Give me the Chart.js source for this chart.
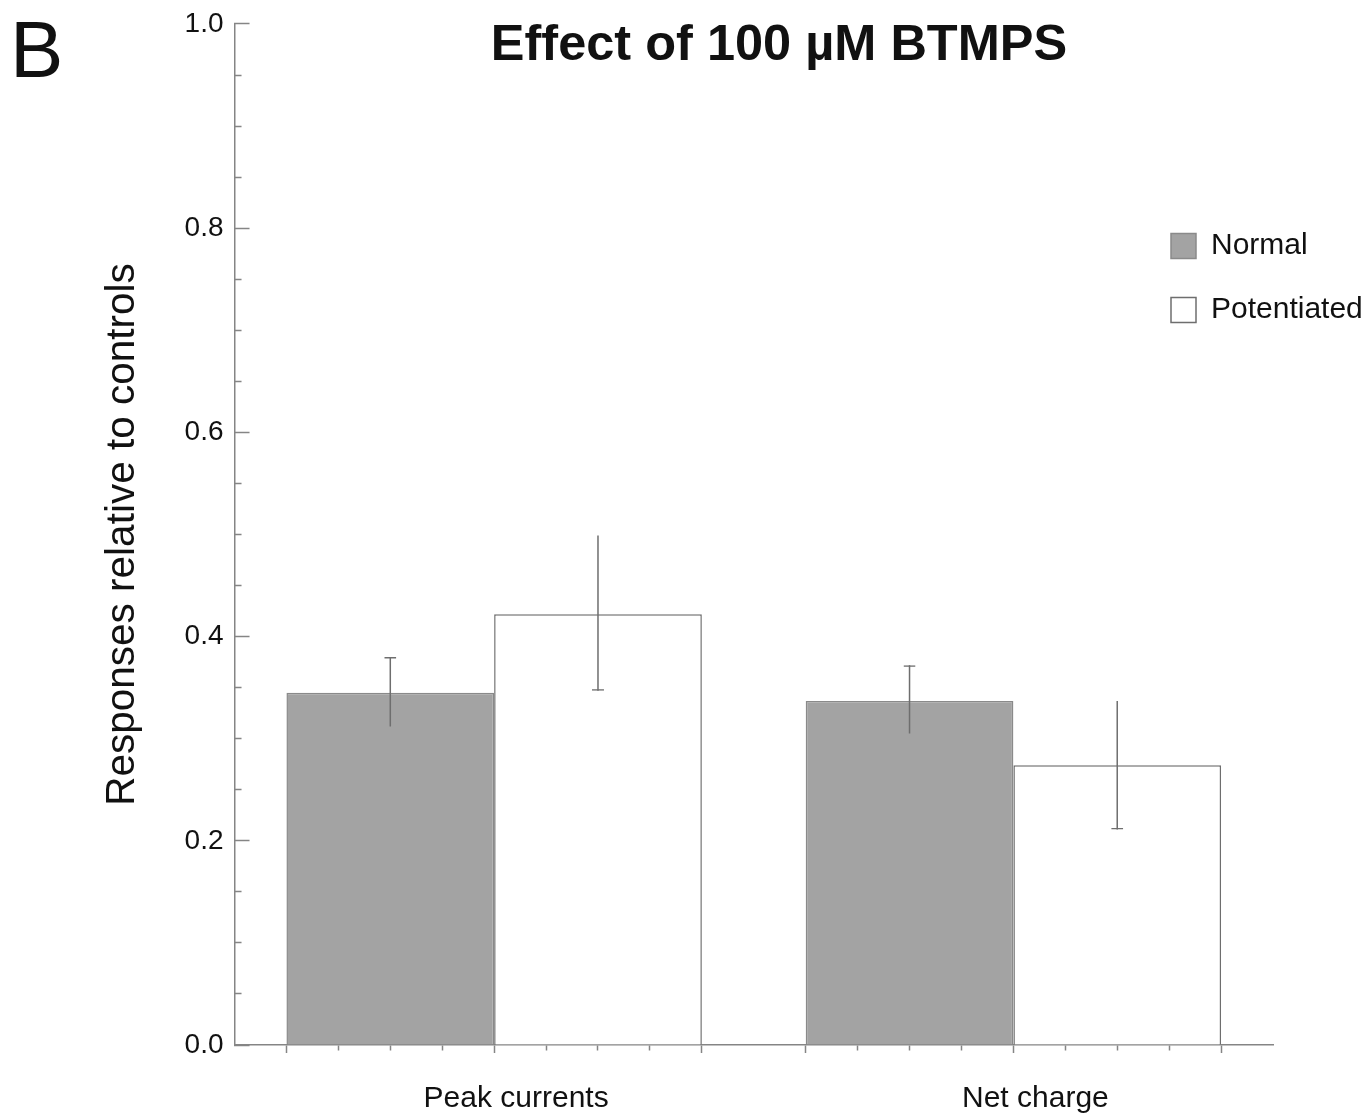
<!DOCTYPE html>
<html>
<head>
<meta charset="utf-8">
<script src="https://cdn.jsdelivr.net/npm/chart.js@4.4.1/dist/chart.umd.min.js"></script>
<style>
  html, body { margin: 0; padding: 0; background: #ffffff; }
  #wrap { position: relative; width: 1368px; height: 1118px; overflow: hidden; background: #ffffff; }
  #chart { position: absolute; left: 0; top: 0; }
  #panel { position: absolute; left: 10px; top: 10px; font: 80px/1 'Liberation Sans', Arial, sans-serif; color: #111; }
</style>
</head>
<body>
<div id="wrap">
  <canvas id="chart" width="1368" height="1118"></canvas>
  <div id="panel"></div>
</div>
<script>
// ---- data ----
const panelLabel = 'B';
const chartTitle = 'Effect of 100 µM BTMPS';
const yAxisTitle = 'Responses relative to controls';
const categories = ['Peak currents', 'Net charge'];
const seriesNames = ['Normal', 'Potentiated'];
const normalMean = [0.345, 0.337];
const normalLow = [0.312, 0.305];
const normalHigh = [0.380, 0.372];
const potentiatedMean = [0.422, 0.274];
const potentiatedLow = [0.347, 0.211];
const potentiatedHigh = [0.499, 0.337];
const yMin = 0, yMax = 1, yMajorStep = 0.2, yMinorStep = 0.05;

// ---- style / layout ----
const FONT = "'Liberation Sans', Arial, sans-serif";
const AXIS_COLOR = '#858585';
const ERR_COLOR = '#6e6e6e';
const LEGEND_X = 1137, LEGEND_Y = 197;
const TITLE_CX = 779;
const Y_LABEL_OVERFLOW = 17;

document.getElementById('panel').textContent = panelLabel;

Chart.defaults.font.family = FONT;
Chart.defaults.color = '#111';

const tickVal = ctx => (ctx && ctx.tick) ? ctx.tick.value : null;
const isMajorY = v => v !== null && Math.abs(v / yMajorStep - Math.round(v / yMajorStep)) < 1e-6;
const toRange = (lo, hi) => lo.map((l, i) => [l, hi[i]]);

// hidden tick-mark axis: 10 subdivisions per category
const SUBDIV = 10;
const isMajorX = v => { if (v === null) return true; const r = ((Math.round(v) % SUBDIV) + SUBDIV) % SUBDIV; return r === 1 || r === 5 || r === 9; };
const isHiddenX = v => v === null || Math.round(v) % SUBDIV === 0;

const placePlugin = {
  id: 'place',
  afterLayout(chart) {
    const lg = chart.legend;
    if (lg) {
      const w = lg.width, h = lg.height;
      lg.left = LEGEND_X; lg.top = LEGEND_Y; lg.right = LEGEND_X + w; lg.bottom = LEGEND_Y + h;
    }
    const t = chart.titleBlock;
    if (t) {
      const dx = TITLE_CX - (t.left + t.right) / 2;
      t.left += dx; t.right += dx;
    }
  }
};

new Chart(document.getElementById('chart'), {
  type: 'bar',
  data: {
    labels: categories,
    datasets: [
      { label: seriesNames[0], data: normalMean, stack: 'normal', order: 2,
        backgroundColor: '#a3a3a3', borderColor: '#8a8a8a', borderWidth: 1.5,
        xAxisID: 'x', yAxisID: 'y' },
      { label: seriesNames[1], data: potentiatedMean, stack: 'potentiated', order: 2,
        backgroundColor: '#ffffff', borderColor: '#6e6e6e', borderWidth: 1.5,
        xAxisID: 'x', yAxisID: 'y' },
      { label: 'Normal error', data: toRange(normalLow, normalHigh), stack: 'normal', order: 1,
        backgroundColor: ERR_COLOR, borderWidth: 0, maxBarThickness: 1.5, inflateAmount: 0,
        xAxisID: 'x', yAxisID: 'y' },
      { label: 'Normal cap', data: toRange(normalLow, normalHigh), stack: 'normal', order: 1,
        backgroundColor: 'rgba(0,0,0,0)', borderColor: ERR_COLOR, borderSkipped: false,
        borderWidth: { top: 1.5, right: 0, bottom: 0, left: 0 }, maxBarThickness: 12, inflateAmount: 0,
        xAxisID: 'x', yAxisID: 'y' },
      { label: 'Potentiated error', data: toRange(potentiatedLow, potentiatedHigh), stack: 'potentiated', order: 1,
        backgroundColor: ERR_COLOR, borderWidth: 0, maxBarThickness: 1.5, inflateAmount: 0,
        xAxisID: 'x', yAxisID: 'y' },
      { label: 'Potentiated cap', data: toRange(potentiatedLow, potentiatedHigh), stack: 'potentiated', order: 1,
        backgroundColor: 'rgba(0,0,0,0)', borderColor: ERR_COLOR, borderSkipped: false,
        borderWidth: { top: 0, right: 0, bottom: 1.5, left: 0 }, maxBarThickness: 12, inflateAmount: 0,
        xAxisID: 'x', yAxisID: 'y' }
    ]
  },
  options: {
    responsive: false,
    animation: false,
    events: [],
    devicePixelRatio: 1,
    layout: { padding: { left: 99, right: 95, top: 0, bottom: -27 } },
    datasets: { bar: { categoryPercentage: 0.8, barPercentage: 1.0, grouped: true } },
    plugins: {
      tooltip: { enabled: false },
      title: {
        display: true, text: chartTitle, color: '#111',
        font: { family: FONT, size: 50.5, weight: 'bold' },
        padding: { top: 15.5, bottom: -52.1 }
      },
      legend: {
        display: true, position: 'chartArea', align: 'start',
        labels: {
          font: { family: FONT, size: 30 }, color: '#111',
          boxWidth: 25, boxHeight: 25, padding: 34,
          filter: item => item.datasetIndex < 2
        }
      }
    },
    scales: {
      x: {
        type: 'category', position: 'bottom', weight: 1, offset: true,
        grid: { display: false, drawTicks: false },
        border: { display: false },
        ticks: { font: { family: FONT, size: 30 }, color: '#111', padding: 28, labelOffset: 22, maxRotation: 0, autoSkip: false }
      },
      x2: {
        type: 'linear', position: 'bottom', weight: 0, offset: false,
        min: 0, max: categories.length * SUBDIV,
        ticks: { display: false, stepSize: 1, maxTicksLimit: 1000 },
        grid: {
          display: true, offset: false, drawOnChartArea: false, drawTicks: true, tickLength: 8, tickWidth: 1.5,
          tickColor: ctx => isHiddenX(tickVal(ctx)) ? 'rgba(0,0,0,0)' : AXIS_COLOR,
          tickBorderDash: ctx => isMajorX(tickVal(ctx)) ? [] : [5, 100]
        },
        border: { display: true, color: AXIS_COLOR, width: 1.5 }
      },
      y: {
        type: 'linear', position: 'left', min: yMin, max: yMax, stacked: false,
        afterFit: scale => { scale.paddingTop = Y_LABEL_OVERFLOW; scale.paddingBottom = Y_LABEL_OVERFLOW; },
        ticks: {
          stepSize: yMinorStep, maxTicksLimit: 1000, autoSkip: false, padding: 26,
          font: { family: FONT, size: 28 }, color: '#111',
          callback: v => isMajorY(v) ? v.toFixed(1) : ''
        },
        grid: {
          display: true, drawOnChartArea: false, drawTicks: true, tickLength: -15, tickWidth: 1.5,
          tickColor: AXIS_COLOR,
          tickBorderDash: ctx => (tickVal(ctx) === null || isMajorY(tickVal(ctx))) ? [] : [0, 8, 7, 100]
        },
        border: { display: true, color: AXIS_COLOR, width: 1.5 },
        title: {
          display: true, text: yAxisTitle, color: '#111',
          font: { family: FONT, size: 40.5 }, padding: { top: 0, bottom: 11 }
        }
      }
    }
  },
  plugins: [placePlugin]
});
</script>
</body>
</html>
